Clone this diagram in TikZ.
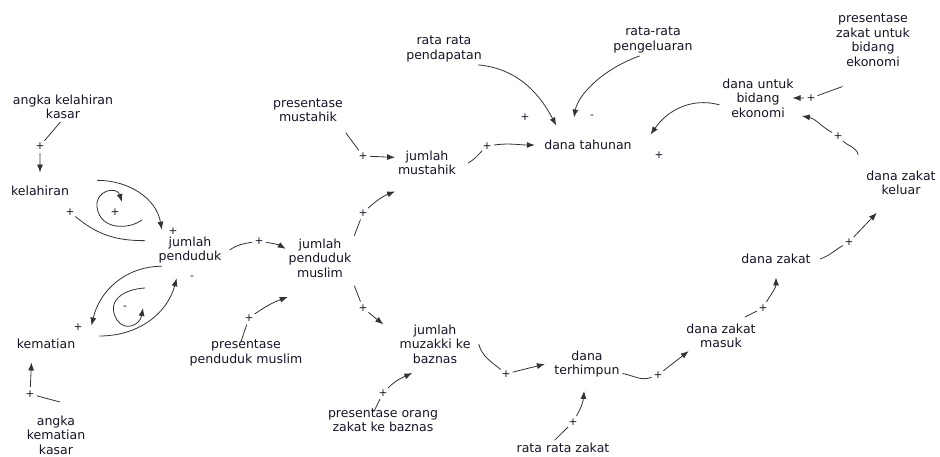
\documentclass[tikz,border=0pt]{standalone}
\usepackage{fontspec}
\setmainfont{DejaVu Sans}
\usetikzlibrary{arrows.meta}
\definecolor{vtext}{RGB}{20,20,40}

\begin{document}
\begin{tikzpicture}[x=0.75pt,y=-0.75pt,
  var/.style={align=center,inner sep=2pt,text=vtext,font=\fontsize{9.4}{10.9}\selectfont},
  pol/.style={circle,inner sep=0pt,minimum size=10pt,text=vtext,font=\fontsize{8}{8}\selectfont},
  cl/.style={->,draw=black!80,line width=0.6pt},
  >={Latex[length=6pt,width=4.5pt]}]
\useasboundingbox (0,0) rectangle (940,457);

% variables
\node[var] (akk) at (63,107) {angka kelahiran\\kasar};
\node[var] (lahir) at (40,191) {kelahiran};
\node[var] (jp) at (190,250) {jumlah\\penduduk};
\node[var] (mati) at (46,344) {kematian};
\node[var] (akm) at (56,435) {angka\\kematian\\kasar};
\node[var] (pm) at (308,110) {presentase\\mustahik};
\node[var] (jm) at (427,163) {jumlah\\mustahik};
\node[var] (jpm) at (320,258) {jumlah\\penduduk\\muslim};
\node[var] (ppm) at (246,353) {presentase\\penduduk muslim};
\node[var] (jmz) at (435,344) {jumlah\\muzakki ke\\baznas};
\node[var] (pozb) at (383,420) {presentase orang\\zakat ke baznas};
\node[var] (dt) at (587,364) {dana\\terhimpun};
\node[var] (rrz) at (563,448) {rata rata zakat};
\node[var] (dth) at (588,145) {dana tahunan};
\node[var] (rrp) at (444,49) {rata rata\\pendapatan};
\node[var] (rrk) at (653,40) {rata-rata\\pengeluaran};
\node[var] (dube) at (758,98) {dana untuk\\bidang\\ekonomi};
\node[var] (pzbe) at (873,40) {presentase\\zakat untuk\\bidang\\ekonomi};
\node[var] (dzk) at (901,183) {dana zakat\\keluar};
\node[var] (dz) at (776,259) {dana zakat};
\node[var] (dzm) at (721,336) {dana zakat\\masuk};

% polarities
\node[pol] (p1) at (40,146) {+};
\node[pol] (p2) at (173,231) {+};
\node[pol] (p3) at (70,212) {+};
\node[pol] (p4) at (78,327) {+};
\node[pol] (p5) at (192,278) {-};
\node[pol] (p6) at (30,394) {+};
\node[pol] (p7) at (259,241) {+};
\node[pol] (p8) at (249,318) {+};
\node[pol] (p9) at (363,156) {+};
\node[pol] (p10) at (363,213) {+};
\node[pol] (p11) at (363,308) {+};
\node[pol] (p12) at (487,146) {+};
\node[pol] (p13) at (525,117) {+};
\node[pol] (p14) at (592,117) {-};
\node[pol] (p15) at (659,155) {+};
\node[pol] (p16) at (811,98) {+};
\node[pol] (p17) at (838,136) {+};
\node[pol] (p18) at (849,242) {+};
\node[pol] (p19) at (763,308) {+};
\node[pol] (p20) at (658,375) {+};
\node[pol] (p21) at (506,374) {+};
\node[pol] (p22) at (383,393) {+};
\node[pol] (p23) at (573,422) {+};
\node[pol] (lp1) at (115,212) {+};
\node[pol] (lp2) at (125,308) {-};

% population
\draw[cl,shorten >=8pt] (akk.-100) -- (p1) -- (lahir);
\draw[cl] ([xshift=19pt,yshift=8pt]lahir.east) to[out=0,in=100] ([yshift=3pt]jp.150);
\draw[cl,-] ([xshift=-8pt,yshift=7pt]jp.west) to[out=180,in=-40] (p3);
\draw[cl] (jp.-150) to[out=180,in=77] ([xshift=10pt,yshift=8pt]mati.north east);
\draw[cl] ([xshift=16pt,yshift=6pt]mati.east) to[out=0,in=-105] ([xshift=-10pt,yshift=-9pt]jp.south);
\draw[cl,shorten >=8pt] ([xshift=3pt,yshift=8pt]akm.north) -- (p6) -- ([xshift=-10.5pt]mati.south);
\draw[cl] (142,220) .. controls (128,230) and (100,230) .. (97,207) .. controls (95,190) and (117,186) .. (122,202);
\draw[cl] (145,288) .. controls (125,289) and (105,300) .. (117,320) .. controls (125,332) and (140,325) .. (143,308);

% muslim, mustahik, muzakki
\draw[cl] ([xshift=4pt]jp.east) to[out=35,in=-170] (p7) to[out=-10,in=150] (jpm.165);
\draw[cl] ([xshift=-4pt,yshift=-4pt]ppm.north) -- (p8) to[out=35,in=-160] ([xshift=1.5pt,yshift=-12.5pt]jpm.south west);
\draw[cl] ([yshift=-6pt]pm.south east) -- (p9) -- (jm.170);
\draw[cl] (jpm.north east) -- (p10) to[bend left=10] ([yshift=-10pt]jm.south west);
\draw[cl] ([yshift=-4pt]jpm.south east) -- (p11) -- ([xshift=-10pt,yshift=-2pt]jmz.north west);
\draw[cl] ([xshift=7pt]jm.east) to[out=30,in=-135] (p12) to[out=8,in=180] ([xshift=-5pt]dth.west);
\draw[cl] ([xshift=-7pt,yshift=-5pt]pozb.north) -- (p22) to[out=45,in=-155] ([xshift=-3pt,yshift=-5pt]jmz.-130);

% dana
\draw[cl,shorten >=10pt] (rrp.-25) to[out=-5,in=118] (dth.163);
\draw[cl,shorten >=15pt] (rrk.-130) to[out=-160,in=80] (dth.156);
\draw[cl] (dube.-170) to[out=165,in=55] ([xshift=12pt,yshift=2pt]dth.north east);
\draw[cl] ([xshift=4pt]jmz.east) to[out=-75,in=140] (p21) to[out=15,in=-165] ([xshift=-5pt]dt.west);
\draw[cl] (rrz.137) -- (p23) to[out=60,in=-95] ([yshift=-8pt]dt.-100);
\draw[cl] (dt.-15) to[out=-10,in=-160] (p20) -- (dzm.-155);
\draw[cl] ([yshift=3pt]dzm.32) -- (p19) to[out=60,in=-90] ([yshift=-8pt]dz.south);
\draw[cl] ([xshift=5pt]dz.east) to[out=20,in=-150] (p18) -- ([xshift=10pt,yshift=-11pt]dzk.south west);
\draw[cl] ([xshift=-4pt,yshift=10pt]dzk.north west) to[out=105,in=-45] (p17) to[out=150,in=-10] ([xshift=4pt,yshift=-3pt]dube.-20);
\draw[cl] ([xshift=7pt,yshift=-13pt]pzbe.south west) -- (p16) -- ([xshift=-3pt]dube.east);
\end{tikzpicture}
\end{document}
